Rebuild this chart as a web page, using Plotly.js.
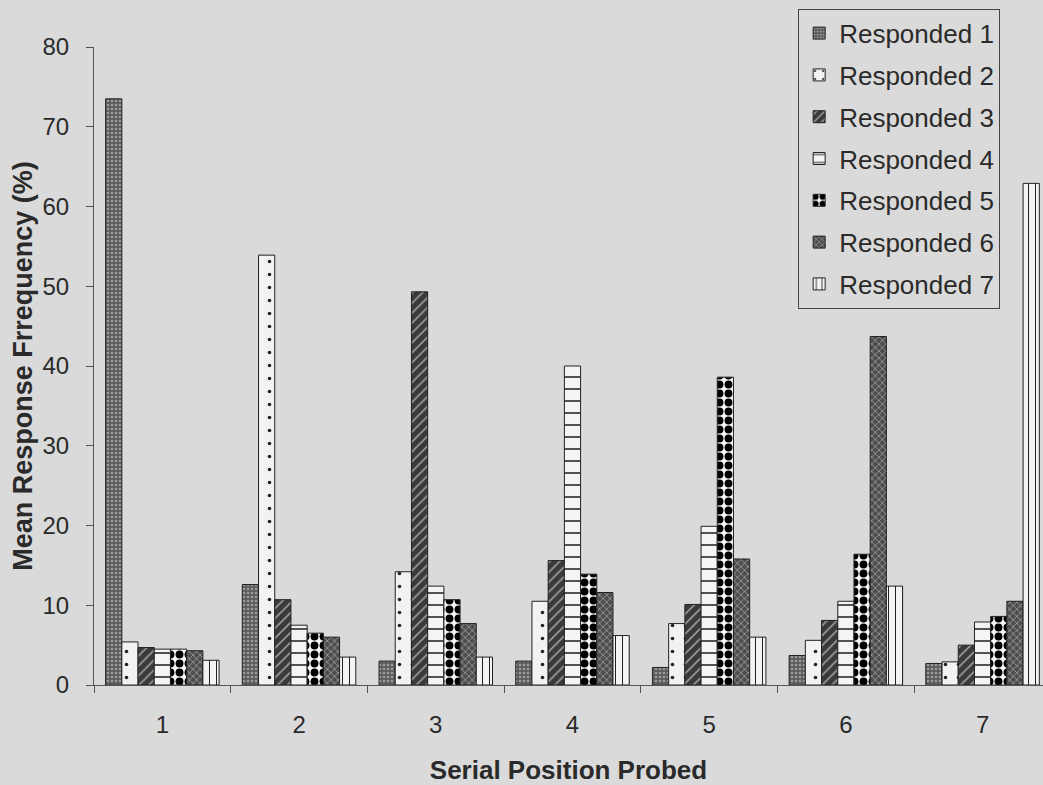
<!DOCTYPE html>
<html>
<head>
<meta charset="utf-8">
<script src="https://cdn.plot.ly/plotly-3.0.1.min.js"></script>
<style>html,body{margin:0;padding:0;background:#dadada;}#chart{width:1043px;height:785px;}</style>
</head>
<body>
<div id="chart"></div>
<script>
const categories = ['1', '2', '3', '4', '5', '6', '7'];
const seriesNames = ['Responded 1', 'Responded 2', 'Responded 3', 'Responded 4', 'Responded 5', 'Responded 6', 'Responded 7'];
const responded1 = [73.5, 12.6, 3.0, 3.0, 2.2, 3.7, 2.7];
const responded2 = [5.4, 53.9, 14.2, 10.5, 7.7, 5.6, 2.9];
const responded3 = [4.7, 10.7, 49.3, 15.6, 10.1, 8.1, 5.0];
const responded4 = [4.5, 7.5, 12.4, 40.0, 19.9, 10.5, 7.9];
const responded5 = [4.5, 6.5, 10.7, 13.9, 38.6, 16.4, 8.6];
const responded6 = [4.3, 6.0, 7.7, 11.6, 15.8, 43.7, 10.5];
const responded7 = [3.1, 3.5, 3.5, 6.2, 6.0, 12.4, 62.9];
const allSeries = [responded1, responded2, responded3, responded4, responded5, responded6, responded7];

const styles = [
  {bg: '#5c5c5c', fg: '#9a9a9a', shape: '.', size: 4, solidity: 0.35},
  {bg: '#f2f2f2', fg: '#222222', shape: '.', size: 13, solidity: 0.06},
  {bg: '#3a3a3a', fg: '#a8a8a8', shape: '/', size: 7, solidity: 0.22},
  {bg: '#f4f4f4', fg: '#333333', shape: '-', size: 12, solidity: 0.14},
  {bg: '#f8f8f8', fg: '#000000', shape: '.', size: 9, solidity: 0.6},
  {bg: '#4e4e4e', fg: '#9c9c9c', shape: 'x', size: 5, solidity: 0.3},
  {bg: '#f4f4f4', fg: '#222222', shape: '|', size: 7, solidity: 0.15}
];

const traces = allSeries.map((vals, i) => ({
  type: 'bar',
  name: seriesNames[i],
  x: categories,
  y: vals,
  legendgroup: 'g' + i,
  marker: {
    color: styles[i].bg,
    line: {color: '#222222', width: 1},
    pattern: {
      shape: styles[i].shape,
      fillmode: 'overlay',
      bgcolor: styles[i].bg,
      fgcolor: styles[i].fg,
      fgopacity: 1,
      size: styles[i].size,
      solidity: styles[i].solidity
    }
  }
}));

const textColor = '#2a2a2a';
const layout = {
  width: 1043,
  height: 785,
  paper_bgcolor: '#dadada',
  plot_bgcolor: '#dadada',
  barmode: 'group',
  bargap: 0.17,
  bargroupgap: 0,
  margin: {l: 94, r: 0, t: 46.5, b: 100},
  font: {family: 'Liberation Sans, Arial, sans-serif', color: textColor, size: 24},
  showlegend: true,
  legend: {
    x: 0.742, y: 1.06, xanchor: 'left', yanchor: 'top',
    bgcolor: 'rgba(0,0,0,0)',
    bordercolor: '#444444', borderwidth: 1,
    font: {size: 26, color: textColor},
    traceorder: 'grouped',
    tracegroupgap: 5,
    itemwidth: 30
  },
  xaxis: {
    type: 'category',
    range: [-0.5, 6.442],
    showline: true, linecolor: '#555555', linewidth: 1,
    ticks: 'outside', tickson: 'boundaries', ticklen: 7, tickcolor: '#555555',
    ticklabelstandoff: 18,
    showgrid: false, zeroline: false,
    tickfont: {size: 24, color: textColor},
    title: {text: 'Serial Position Probed', font: {size: 26, color: textColor, family: 'Liberation Sans, Arial, sans-serif', weight: 'bold'}, standoff: 24}
  },
  yaxis: {
    range: [0, 80],
    tickvals: [0, 10, 20, 30, 40, 50, 60, 70, 80],
    showline: true, linecolor: '#555555', linewidth: 1,
    ticks: 'outside', ticklen: 7, tickcolor: '#555555',
    ticklabelstandoff: 12,
    showgrid: false, zeroline: false,
    tickfont: {size: 24, color: textColor},
    title: {text: 'Mean Response Frrequency (%)', font: {size: 27, color: textColor, family: 'Liberation Sans, Arial, sans-serif', weight: 'bold'}, standoff: 2}
  }
};

Plotly.newPlot('chart', traces, layout, {displayModeBar: false, staticPlot: true});
</script>
</body>
</html>
